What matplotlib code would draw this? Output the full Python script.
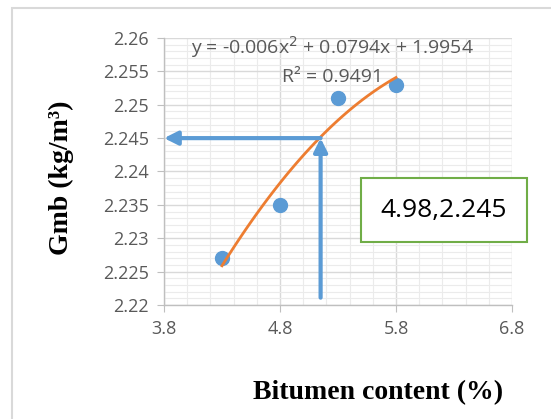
import matplotlib
matplotlib.use("Agg")
import matplotlib.pyplot as plt
from matplotlib.patches import Rectangle
from matplotlib.ticker import MultipleLocator
import numpy as np

# data
bitumen = [4.3, 4.8, 5.3, 5.8]
gmb = [2.227, 2.235, 2.251, 2.253]
trend_coef = [-0.006, 0.0794, 1.9954]
trend_label = "y = -0.006x$^2$ + 0.0794x + 1.9954"
r2_label = "R² = 0.9491"
opt_x = 5.15
opt_y = 2.245
opt_label = "4.98,2.245"

blue = "#5B9BD5"
orange = "#ED7D31"
tick_grey = "#595959"

fig = plt.figure(figsize=(5.51, 4.19), dpi=100)
ax = fig.add_axes([164 / 551, 1 - 305 / 419, (512 - 164) / 551, (305 - 38) / 419])

# outer chart border
fig.patches.append(Rectangle((12 / 551, -0.1), 1.2, 1 - 8 / 419 + 0.1,
                             transform=fig.transFigure, fill=False,
                             edgecolor="#D9D9D9", linewidth=1.5))

ax.set_xlim(3.8, 6.8)
ax.set_ylim(2.22, 2.26)
ax.xaxis.set_minor_locator(MultipleLocator(0.2))
ax.yaxis.set_minor_locator(MultipleLocator(0.001))
ax.set_xticks([3.8, 4.8, 5.8, 6.8])
ax.set_xticklabels(["3.8", "4.8", "5.8", "6.8"])
yt = [2.22, 2.225, 2.23, 2.235, 2.24, 2.245, 2.25, 2.255, 2.26]
ax.set_yticks(yt)
ax.set_yticklabels(["2.22", "2.225", "2.23", "2.235", "2.24", "2.245", "2.25", "2.255", "2.26"])

ax.grid(which="major", color="#D9D9D9", linewidth=1.0)
ax.grid(which="minor", color="#EBEBEB", linewidth=0.8)
ax.set_axisbelow(True)
for s in ["top", "right"]:
    ax.spines[s].set_visible(False)
for s in ["left", "bottom"]:
    ax.spines[s].set_color("#BFBFBF")
    ax.spines[s].set_linewidth(1.0)
ax.tick_params(which="major", direction="out", length=5, color="#BFBFBF",
               labelsize=13, labelcolor=tick_grey, pad=6)
ax.tick_params(which="minor", length=0)
for lab in ax.get_xticklabels() + ax.get_yticklabels():
    lab.set_family("Open Sans")

ax.plot(bitumen, gmb, "o", color=blue, markersize=10, zorder=3)
xs = np.linspace(bitumen[0], bitumen[-1], 100)
ax.plot(xs, np.polyval(trend_coef, xs), color=orange, linewidth=2, zorder=4)

ax.text(5.25, 2.2587, trend_label, ha="center", va="center", fontsize=14,
        color=tick_grey, family="Open Sans")
ax.text(5.25, 2.2542, r2_label, ha="center", va="center", fontsize=14,
        color=tick_grey, family="Open Sans")

arrow_kw = dict(arrowstyle="-|>,head_length=0.8,head_width=0.4", color=blue,
                linewidth=3, shrinkA=0, shrinkB=0)
ax.annotate("", xy=(opt_x, opt_y), xytext=(opt_x, 2.2211),
            arrowprops=arrow_kw, zorder=5, annotation_clip=False)
ax.annotate("", xy=(3.8, opt_y), xytext=(opt_x, opt_y),
            arrowprops=arrow_kw, zorder=5, annotation_clip=False)

fig.text(444 / 551, 1 - 210 / 419, opt_label, ha="center", va="center",
         fontsize=19, family="Open Sans", color="black",
         bbox=dict(boxstyle="square,pad=0.75", facecolor="white",
                   edgecolor="#70AD47", linewidth=1.5))

fig.text(61 / 551, 1 - 178 / 419, "Gmb (kg/m³)", rotation=90, ha="center",
         va="center", fontsize=20, fontweight="bold", family="Liberation Serif")
fig.text(378 / 551, 1 - 393 / 419, "Bitumen content (%)", ha="center",
         va="center", fontsize=20, fontweight="bold", family="Liberation Serif")

fig.savefig("out.png", dpi=100)
